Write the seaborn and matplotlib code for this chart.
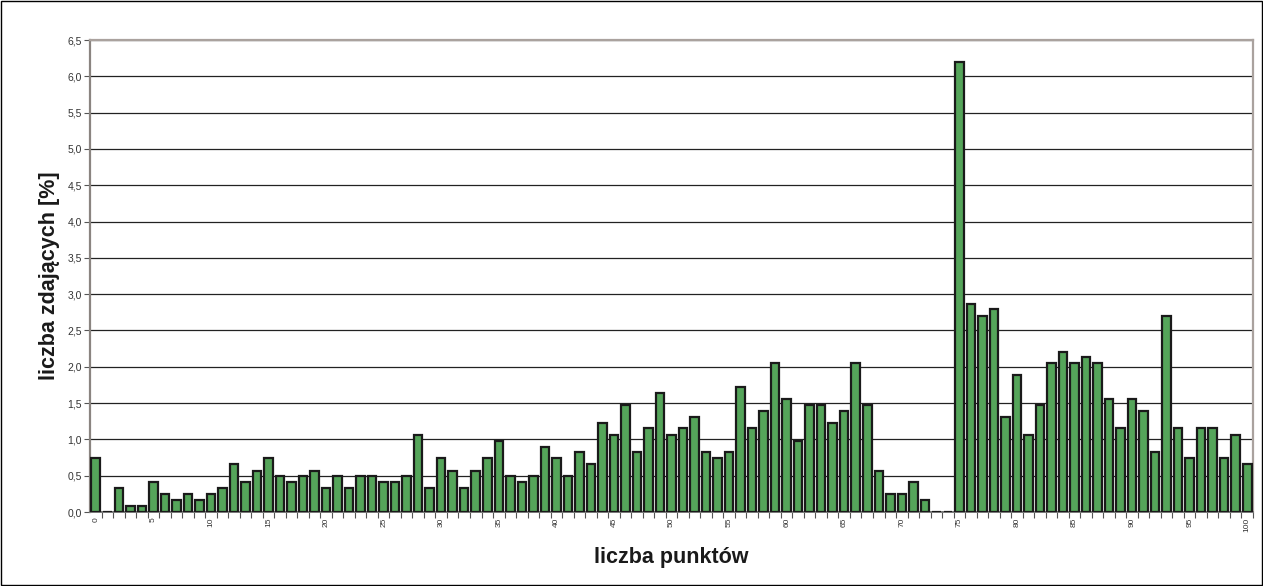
import numpy as np
import pandas as pd
import matplotlib
matplotlib.use("Agg")
import matplotlib.pyplot as plt
import seaborn as sns
from matplotlib.ticker import FuncFormatter, FixedLocator

# ---- data ----
points = list(range(0, 101))
percent = [
    0.74, 0.00, 0.33, 0.08, 0.08, 0.41, 0.25, 0.16, 0.25, 0.16,   # 0-9
    0.25, 0.33, 0.66, 0.41, 0.57, 0.74, 0.49, 0.41, 0.49, 0.57,   # 10-19
    0.33, 0.49, 0.33, 0.49, 0.49, 0.41, 0.41, 0.49, 1.06, 0.33,   # 20-29
    0.74, 0.57, 0.33, 0.57, 0.74, 0.98, 0.49, 0.41, 0.49, 0.90,   # 30-39
    0.74, 0.49, 0.82, 0.66, 1.23, 1.06, 1.47, 0.82, 1.15, 1.64,   # 40-49
    1.06, 1.15, 1.31, 0.82, 0.74, 0.82, 1.72, 1.15, 1.39, 2.05,   # 50-59
    1.56, 0.98, 1.47, 1.47, 1.23, 1.39, 2.05, 1.47, 0.57, 0.25,   # 60-69
    0.25, 0.41, 0.16, 0.00, 0.00, 6.20, 2.87, 2.70, 2.79, 1.31,   # 70-79
    1.89, 1.06, 1.47, 2.05, 2.21, 2.05, 2.13, 2.05, 1.56, 1.15,   # 80-89
    1.56, 1.39, 0.82, 2.70, 1.15, 0.74, 1.15, 1.15, 0.74, 1.06,   # 90-99
    0.66,                                                         # 100
]
y_ticks = [i * 0.5 for i in range(14)]
x_label_every = 5
xlabel_text = "liczba punktów"
ylabel_text = "liczba zdających [%]"

df = pd.DataFrame({"pkt": points, "pct": percent})

sns.set_style("white")
plt.rcParams["font.family"] = ["Liberation Sans", "DejaVu Sans"]

fig = plt.figure(figsize=(12.63, 5.86), dpi=100)
ax = fig.add_axes([90 / 1263, 1 - 512 / 586, (1253 - 90) / 1263, (512 - 40) / 586])

sns.barplot(data=df, x="pkt", y="pct", color="#55a55a", saturation=1,
            width=0.74, edgecolor="#1a1a1a", linewidth=1.6, ax=ax, zorder=3)

ax.set_xlim(-0.5, len(points) - 0.5)
ax.set_ylim(0, 6.5)
ax.set_yticks(y_ticks)
ax.yaxis.set_major_formatter(FuncFormatter(lambda v, p: f"{v:.1f}".replace(".", ",")))
ax.grid(axis="y", color="#222222", linewidth=0.9, zorder=0)
ax.set_axisbelow(True)

major = [i for i in range(len(points)) if points[i] % x_label_every == 0]
ax.set_xticks(major)
ax.set_xticklabels([str(points[i]) for i in major], rotation=90, fontsize=6, color="#333333")
ax.xaxis.set_minor_locator(FixedLocator([i + 0.5 for i in range(len(points))]))
ax.tick_params(axis="x", which="major", length=0, pad=4)
ax.tick_params(axis="x", which="minor", length=4, width=0.8, color="#555555", bottom=True)
ax.tick_params(axis="y", which="major", length=4, width=0.8, color="#555555", labelsize=7.5,
               labelcolor="#333333", left=True, pad=2)

for side in ["top", "right"]:
    ax.spines[side].set_color("#aaa29e")
    ax.spines[side].set_linewidth(1.6)
ax.spines["left"].set_color("#8a8480")
ax.spines["left"].set_linewidth(1.6)
ax.spines["bottom"].set_color("#777777")
ax.spines["bottom"].set_linewidth(1.4)

ax.set_xlabel(xlabel_text, fontsize=15.5, fontweight="bold", labelpad=11, color="#1a1a1a")
ax.set_ylabel(ylabel_text, fontsize=15.5, fontweight="bold", labelpad=5, color="#1a1a1a")

fig.patches.append(plt.Rectangle((0.0008, 0.001), 0.9984, 0.997, transform=fig.transFigure,
                                 fill=False, edgecolor="#000000", linewidth=1.0))

fig.savefig("out.png", dpi=100)
